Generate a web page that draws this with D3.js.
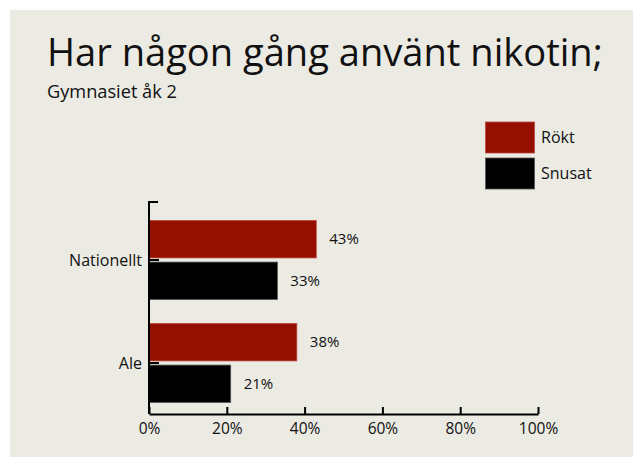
<!DOCTYPE html>
<html>
<head>
<meta charset="utf-8">
<script src="https://cdn.jsdelivr.net/npm/d3@7"></script>
<style>
  html, body { margin: 0; padding: 0; background: #ffffff; }
  svg { display: block; }
  text { font-family: "Open Sans", "Noto Sans", sans-serif; fill: #111; }
</style>
</head>
<body>
<svg id="chart" width="633" height="457"></svg>
<script>
// Andel elever som någon gång använt nikotin
const categories = ["Nationellt", "Ale"];
const series = ["Rökt", "Snusat"];
const roktValues = [43, 38];
const snusatValues = [33, 21];
const xTicks = [0, 20, 40, 60, 80, 100];
const colors = ["#961000", "#000000"];

const svg = d3.select("#chart");
const W = 633, H = 457;

// panel
svg.append("rect").attr("x", 10).attr("y", 10).attr("width", W - 10).attr("height", H - 10)
  .attr("fill", "#ebeae3");

// title and subtitle, sized to fill their line widths
function fitText(sel, width, size) {
  sel.style("font-size", size + "px");
  const w = sel.node().getComputedTextLength();
  sel.style("font-size", (size * width / w) + "px");
}
const title = svg.append("text").attr("x", 47).attr("y", 66).text("Har någon gång använt nikotin;");
fitText(title, 556, 36);
const subtitle = svg.append("text").attr("x", 47).attr("y", 98).text("Gymnasiet åk 2");
fitText(subtitle, 130, 16);

const x = d3.scaleLinear().domain([0, 100]).range([149, 538]);
const y = d3.scaleBand().domain(categories).range([208.5, 414.5]).padding(0);
const ySub = d3.scaleBand().domain(series).range([0, 79]).paddingInner(0.1);

const rows = categories.map((c, i) => ({ cat: c, vals: [roktValues[i], snusatValues[i]] }));

// category ticks (under the bars)
const yAxis = d3.axisRight(y).tickSize(10).tickFormat("");
const gy = svg.append("g").attr("transform", `translate(${x(0)},0)`).call(yAxis);
gy.select(".domain").remove();
gy.selectAll("line").attr("stroke", "#000").attr("stroke-width", 2);

// bars
const groups = svg.append("g").selectAll("g").data(rows).join("g")
  .attr("transform", d => `translate(0,${y(d.cat) + y.bandwidth() / 2 - 39.5})`);

groups.selectAll("rect").data(d => d.vals.map((v, j) => ({ s: series[j], v, j })))
  .join("rect")
  .attr("x", x(0))
  .attr("y", d => ySub(d.s))
  .attr("width", d => x(d.v) - x(0))
  .attr("height", ySub.bandwidth())
  .attr("fill", d => colors[d.j])
  .attr("stroke", d => d.j === 0 ? "#b8493c" : "#555")
  .attr("stroke-width", 0.8);

groups.selectAll("text.val").data(d => d.vals.map((v, j) => ({ s: series[j], v, j })))
  .join("text").attr("class", "val")
  .attr("x", d => x(d.v) + 13)
  .attr("y", d => ySub(d.s) + ySub.bandwidth() / 2)
  .attr("dy", "0.35em")
  .style("font-size", "15px")
  .text(d => d.v + "%");

// category labels
svg.append("g").selectAll("text").data(categories).join("text")
  .attr("x", 142)
  .attr("y", d => y(d) + y.bandwidth() / 2)
  .attr("dy", "0.35em")
  .attr("text-anchor", "end")
  .style("font-size", "16px")
  .text(d => d);

// vertical axis line with top end tick
svg.append("path")
  .attr("d", `M${x(0) + 9},202 H${x(0)} V414`)
  .attr("fill", "none").attr("stroke", "#000").attr("stroke-width", 2);

// x axis
const xAxis = d3.axisBottom(x).tickValues(xTicks).tickSize(0).tickSizeOuter(0)
  .tickFormat(d => d + "%");
const gx = svg.append("g").attr("transform", "translate(0,414)").call(xAxis);
gx.select(".domain").attr("stroke", "#000").attr("stroke-width", 2);
gx.selectAll(".tick line").attr("y1", 0).attr("y2", -7).attr("stroke", "#000").attr("stroke-width", 2);
gx.selectAll(".tick text").attr("y", 20).attr("dy", null)
  .style("font-size", "15.5px").style("font-family", null).attr("fill", "#111");

// legend
const legend = svg.append("g");
series.forEach((s, i) => {
  const ly = 122 + i * 36;
  legend.append("rect").attr("x", 485.5).attr("y", ly).attr("width", 49).attr("height", 31)
    .attr("fill", colors[i]).attr("stroke", i === 0 ? "#b8493c" : "#555").attr("stroke-width", 0.8);
  legend.append("text").attr("x", 541).attr("y", ly + 15.5).attr("dy", "0.35em")
    .style("font-size", "16px").text(s);
});
</script>
</body>
</html>
